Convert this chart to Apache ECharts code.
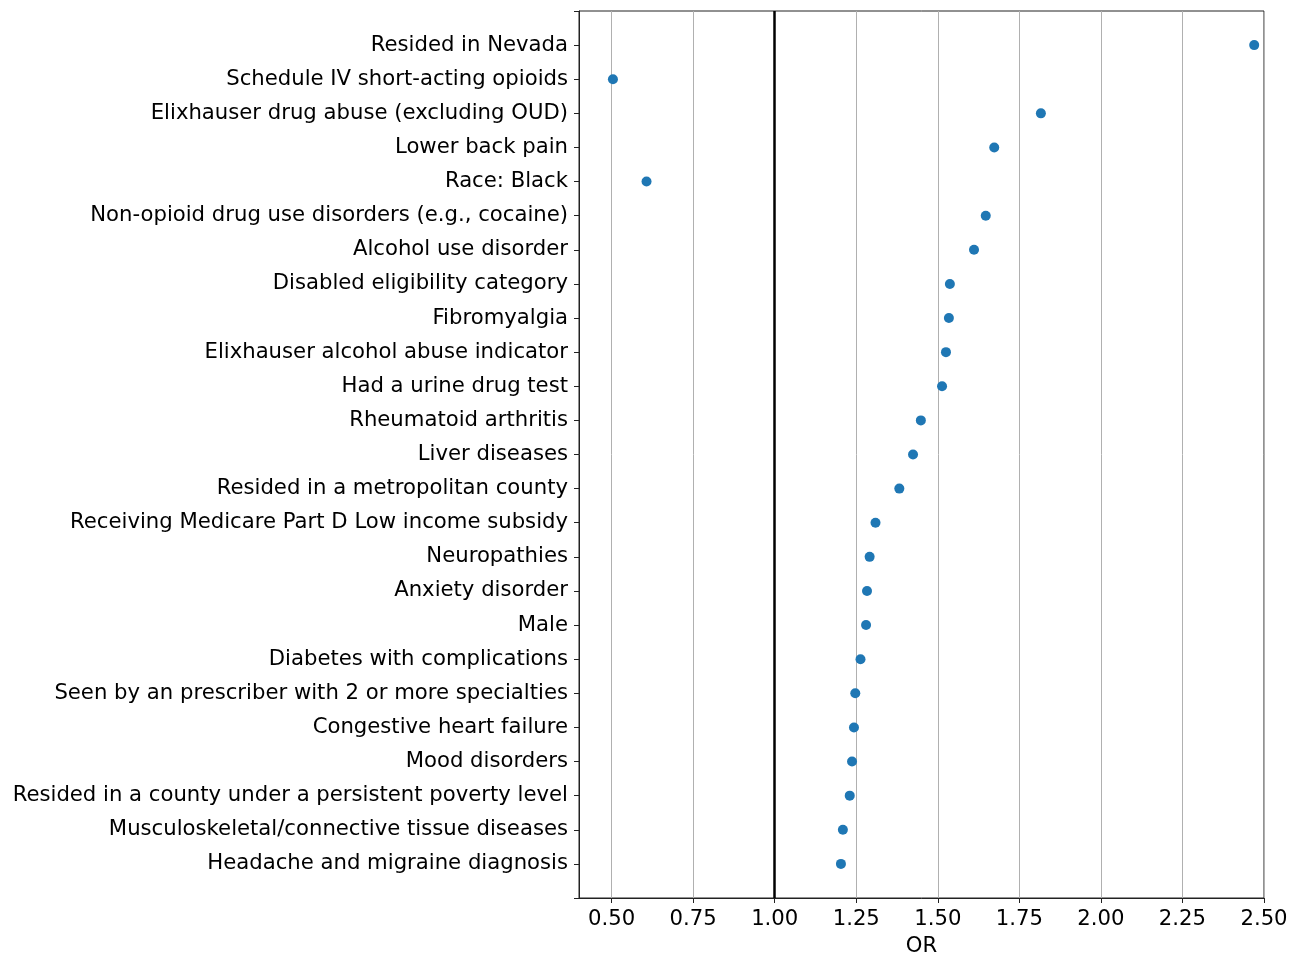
<!DOCTYPE html>
<html>
<head>
<meta charset="utf-8">
<script src="https://cdn.jsdelivr.net/npm/echarts@6/dist/echarts.min.js"></script>
<style>
html,body{margin:0;padding:0;background:#fff;}
#chart{width:1303px;height:953px;}
</style>
</head>
<body>
<div id="chart"></div>
<script>
const categories = [
  "Resided in Nevada",
  "Schedule IV short-acting opioids",
  "Elixhauser drug abuse (excluding OUD)",
  "Lower back pain",
  "Race: Black",
  "Non-opioid drug use disorders (e.g., cocaine)",
  "Alcohol use disorder",
  "Disabled eligibility category",
  "Fibromyalgia",
  "Elixhauser alcohol abuse indicator",
  "Had a urine drug test",
  "Rheumatoid arthritis",
  "Liver diseases",
  "Resided in a metropolitan county",
  "Receiving Medicare Part D Low income subsidy",
  "Neuropathies",
  "Anxiety disorder",
  "Male",
  "Diabetes with complications",
  "Seen by an prescriber with 2 or more specialties",
  "Congestive heart failure",
  "Mood disorders",
  "Resided in a county under a persistent poverty level",
  "Musculoskeletal/connective tissue diseases",
  "Headache and migraine diagnosis"
];
const orValues = [
  2.47, 0.504, 1.816, 1.673, 0.607, 1.647, 1.611, 1.537, 1.534, 1.525,
  1.513, 1.448, 1.424, 1.382, 1.309, 1.291, 1.283, 1.280, 1.263, 1.247,
  1.243, 1.237, 1.230, 1.209, 1.203
];
const xTicks = [0.5, 0.75, 1.0, 1.25, 1.5, 1.75, 2.0, 2.25, 2.5];
const referenceOR = 1.0;

// pad one empty slot at each end (matplotlib-like margins)
const yCats = [""].concat(categories, [""]);
const points = categories.map((c, i) => [orValues[i], c]);

const FONT = "DejaVu Sans";
const FS = 21.2;
const chart = echarts.init(document.getElementById('chart'), null, {renderer: 'canvas'});
chart.setOption({
  animation: false,
  backgroundColor: '#ffffff',
  grid: {
    left: 579, top: 11, right: 39, bottom: 55,
    outerBoundsMode: 'none',
    containLabel: false,
    show: true, borderColor: '#222', borderWidth: 1, backgroundColor: 'transparent'
  },
  xAxis: {
    type: 'value',
    min: 0.4,
    max: 2.5,
    name: 'OR',
    nameLocation: 'middle',
    nameGap: 38,
    nameTextStyle: {fontFamily: FONT, fontSize: FS, color: '#000'},
    axisLine: {show: true, onZero: false, lineStyle: {color: '#222', width: 1}},
    axisTick: {show: true, length: 5, inside: false, customValues: xTicks, lineStyle: {color: '#222'}},
    axisLabel: {
      customValues: xTicks,
      margin: 11,
      fontFamily: FONT, fontSize: FS, color: '#000',
      formatter: v => v.toFixed(2)
    },
    splitLine: {show: true, lineStyle: {color: '#b0b0b0', width: 1}}
  },
  yAxis: {
    type: 'category',
    data: yCats,
    inverse: true,
    boundaryGap: false,
    axisLine: {show: true, lineStyle: {color: '#222', width: 1}},
    axisTick: {show: true, length: 5, interval: 0, lineStyle: {color: '#222'}},
    axisLabel: {interval: 0, margin: 11, padding: [4, 0, 0, 0], fontFamily: FONT, fontSize: FS, color: '#000'},
    splitLine: {show: false}
  },
  series: [{
    type: 'scatter',
    data: points,
    symbol: 'circle',
    symbolSize: 10,
    itemStyle: {color: '#1f77b4', opacity: 1},
    z: 5,
    markLine: {
      silent: true,
      symbol: 'none',
      label: {show: false},
      lineStyle: {color: '#000', width: 2.5, type: 'solid'},
      data: [{xAxis: referenceOR}],
      z: 3
    }
  }]
});
</script>
</body>
</html>
